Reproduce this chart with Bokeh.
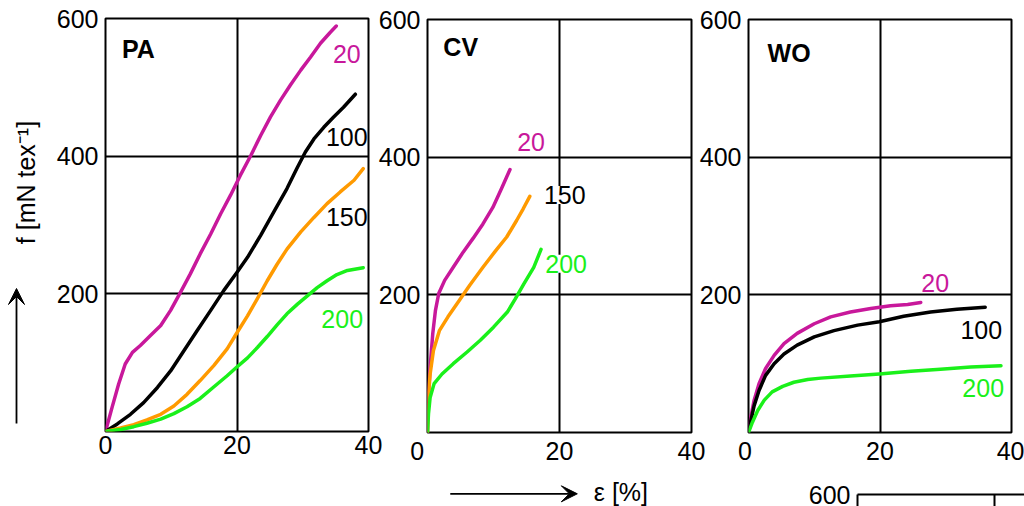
import math
from bokeh.plotting import figure
from bokeh.layouts import row, column
from bokeh.models import Range1d, FixedTicker, Label, Arrow, VeeHead, Spacer
from bokeh.embed import file_html
from bokeh.resources import INLINE

FONT = "Liberation Sans"
FS = "25px"
MAGENTA = "#C8189B"
ORANGE = "#FF9A00"
GREEN = "#1AF01A"
BLACK = "#000000"

# ---------------- data (strain eps [%], tenacity f [mN/tex]) ----------------
x_ticks = [0, 20, 40]
y_ticks = [200, 400, 600]

# PA
pa20_eps = [0, 1.0, 2.0, 3.0, 4.1, 5.3, 6.8, 8.4, 9.9, 11.4, 12.9, 14.4, 16.0, 17.5, 19.0,
            20.5, 22.1, 23.6, 25.1, 26.6, 28.1, 29.7, 31.2, 32.7, 34.2, 35.1]
pa20_f = [0, 35, 69, 98, 115, 125, 139, 154, 176, 202, 229, 258, 287, 316, 343,
          372, 401, 430, 457, 481, 503, 525, 544, 564, 580, 589]
pa100_eps = [0, 1.8, 3.8, 5.8, 7.9, 9.9, 11.9, 13.9, 16.0, 18.0, 19.9, 21.6, 23.6, 25.6,
             27.6, 29.1, 30.4, 31.7, 33.2, 34.7, 36.2, 38.0]
pa100_f = [0, 11, 25, 42, 64, 88, 117, 146, 176, 205, 230, 253, 285, 319,
           353, 382, 406, 425, 442, 457, 471, 490]
pa150_eps = [0, 2.3, 4.3, 6.3, 8.4, 10.4, 12.4, 14.4, 16.5, 18.5, 19.9, 21.6, 23.1, 24.6,
             26.1, 27.6, 29.7, 31.7, 33.7, 35.7, 37.8, 39.2]
pa150_f = [0, 5, 10, 17, 25, 37, 54, 74, 96, 120, 142, 168, 193, 219,
           243, 265, 290, 311, 331, 348, 365, 382]
pa200_eps = [0, 2.3, 4.3, 6.3, 8.4, 10.4, 12.4, 14.4, 16.5, 18.5, 19.9, 21.6, 23.1, 24.6,
             26.1, 27.6, 29.2, 30.7, 32.2, 33.7, 35.2, 36.8, 39.2]
pa200_f = [0, 3, 7, 12, 18, 26, 36, 48, 65, 81, 93, 107, 122, 138,
           155, 171, 185, 197, 209, 219, 228, 234, 238]

# CV
cv20_eps = [0, 0.1, 0.4, 0.8, 1.2, 1.7, 2.6, 3.9, 5.4, 6.9, 8.4, 9.9, 11.2, 12.5]
cv20_f = [0, 47, 95, 144, 177, 202, 221, 240, 262, 282, 303, 327, 354, 382]
cv150_eps = [0, 0.1, 0.4, 0.9, 1.8, 3.1, 4.6, 6.4, 8.4, 10.4, 12.0, 13.5, 14.5, 15.5]
cv150_f = [0, 47, 85, 119, 148, 168, 189, 214, 240, 265, 284, 308, 325, 343]
cv200_eps = [0, 0.15, 0.4, 1.0, 2.2, 3.9, 6.0, 8.0, 10.0, 12.1, 13.3, 14.6, 16.1, 17.2]
cv200_f = [0, 27, 51, 71, 85, 100, 117, 134, 153, 175, 194, 216, 240, 266]

# WO
wo20_eps = [0, 0.35, 0.86, 1.6, 2.6, 3.9, 5.4, 7.4, 10.0, 12.5, 15.5, 18.6, 21.6, 24.2, 26.2]
wo20_f = [0, 22, 47, 71, 93, 112, 129, 144, 158, 168, 175, 180, 184, 186, 189]
wo100_eps = [0, 0.35, 0.86, 1.6, 2.6, 3.9, 5.4, 7.4, 10.0, 13.0, 16.6, 19.9, 23.6, 27.7, 31.7, 36.0]
wo100_f = [0, 17, 39, 61, 83, 100, 114, 127, 139, 148, 156, 161, 169, 175, 179, 182]
wo200_eps = [0, 0.6, 1.4, 2.4, 3.6, 5.2, 6.9, 9.0, 11.0, 15.5, 19.9, 24.7, 29.2, 33.8, 38.4]
wo200_f = [0, 15, 32, 47, 59, 67, 73, 77, 79, 82, 85, 89, 92, 95, 97]

panel_titles = ["PA", "CV", "WO"]
y_label = "f [mN tex\u207b\u00b9]"
x_label = "\u03b5 [%]"

# curve label texts / positions (data units) / colours
pa_labels = [("20", 36.7, 549, MAGENTA), ("100", 36.7, 428, BLACK),
             ("150", 36.7, 311, BLACK), ("200", 36.0, 164, GREEN)]
cv_labels = [("20", 15.7, 422, MAGENTA), ("150", 20.8, 345, BLACK),
             ("200", 21.0, 245, GREEN)]
wo_labels = [("20", 28.4, 217, MAGENTA), ("100", 35.4, 149, BLACK),
             ("200", 35.7, 64, GREEN)]


def style_axes(p):
    for ax in p.xaxis + p.yaxis:
        ax.axis_line_color = None
        ax.major_tick_line_color = None
        ax.minor_tick_line_color = None
        ax.major_tick_out = 0
        ax.major_tick_in = 0
        ax.major_label_text_font = FONT
        ax.major_label_text_font_size = FS
        ax.major_label_text_color = "black"
    p.yaxis.major_label_standoff = 7
    p.xaxis.major_label_standoff = 4


def make_panel(width, height, bl, br, bt, bb):
    p = figure(width=width, height=height, x_range=Range1d(0, 40), y_range=Range1d(0, 600),
               output_backend="svg", toolbar_location=None,
               min_border_left=bl, min_border_right=br, min_border_top=bt, min_border_bottom=bb)
    p.border_fill_color = None
    p.background_fill_color = "white"
    p.outline_line_color = "black"
    p.outline_line_width = 2
    p.outline_line_alpha = 1
    p.xaxis.ticker = FixedTicker(ticks=x_ticks)
    p.yaxis.ticker = FixedTicker(ticks=y_ticks)
    p.xgrid.ticker = FixedTicker(ticks=[20])
    p.ygrid.ticker = FixedTicker(ticks=[200, 400])
    for g in p.xgrid + p.ygrid:
        g.grid_line_color = "black"
        g.grid_line_width = 2
        g.grid_line_alpha = 1
    style_axes(p)
    return p


def add_curves(p, curves, labels, title, title_xy, bg=False):
    for xs, ys, c in curves:
        p.line(xs, ys, line_color=c, line_width=3.5, line_join="round", line_cap="round")
    for txt, lx, ly, c in labels:
        lab = Label(x=lx, y=ly, text=txt, text_color=c, text_font=FONT, text_font_size=FS,
                    text_align="center", text_baseline="middle")
        if bg:
            lab.background_fill_color = "white"
            lab.padding = 0
        p.add_layout(lab)
    p.add_layout(Label(x=title_xy[0], y=title_xy[1], text=title, text_font=FONT,
                       text_font_size=FS, text_font_style="bold", text_color="black",
                       text_align="left", text_baseline="middle"))


def blank(width, height, xr, yr, bl=0, br=0, bt=0, bb=0):
    p = figure(width=width, height=height, x_range=xr, y_range=yr,
               output_backend="svg", toolbar_location=None,
               x_axis_type=None, y_axis_type=None,
               min_border_left=bl, min_border_right=br, min_border_top=bt, min_border_bottom=bb)
    p.outline_line_color = None
    p.border_fill_color = None
    p.background_fill_color = None
    return p


def arrow_head():
    return VeeHead(size=16, fill_color="black", line_color="black", line_width=1)


# ---------------- y-axis title strip (pixel-like coordinates) ----------------
p0 = blank(45, 506, Range1d(0, 45), Range1d(431, 18), bt=18, bb=75)
p0.add_layout(Label(x=25, y=182, text=y_label, text_font=FONT, text_font_size=FS,
                    angle=math.pi / 2, text_align="center", text_baseline="middle",
                    text_color="black"))
p0.add_layout(Arrow(x_start=16, y_start=423, x_end=16, y_end=288,
                    line_color="black", line_width=1.8, end=arrow_head()))

# ---------------- PA ----------------
p1 = make_panel(345, 506, 60, 22, 18, 75)
add_curves(p1, [(pa20_eps, pa20_f, MAGENTA), (pa100_eps, pa100_f, BLACK),
                (pa150_eps, pa150_f, ORANGE), (pa200_eps, pa200_f, GREEN)],
           pa_labels, panel_titles[0], (2.5, 555))

# ---------------- CV ----------------
p2 = make_panel(335, 470, 52, 19, 19, 38)
p2.xaxis.major_label_overrides = {0: "0\u00a0\u00a0\u00a0"}
add_curves(p2, [(cv20_eps, cv20_f, MAGENTA), (cv150_eps, cv150_f, ORANGE),
                (cv200_eps, cv200_f, GREEN)],
           cv_labels, panel_titles[1], (2.4, 560), bg=True)

pxl = blank(335, 36, Range1d(0, 40), Range1d(506, 470), bl=52, br=19)
pxl.add_layout(Arrow(x_start=3.45, y_start=493.3, x_end=22.7, y_end=493.3,
                     line_color="black", line_width=1.8, end=arrow_head()))
pxl.add_layout(Label(x=25.2, y=491.0, text=x_label, text_font=FONT, text_font_size=FS,
                     text_align="left", text_baseline="middle", text_color="black"))

c2 = column(p2, pxl)
c2.margin = (0, 0, 0, -15)

# ---------------- WO ----------------
p3 = make_panel(329, 470, 53, 13, 19, 38)
p3.xaxis.major_label_overrides = {0: "0\u00a0"}
add_curves(p3, [(wo20_eps, wo20_f, MAGENTA), (wo100_eps, wo100_f, BLACK),
                (wo200_eps, wo200_f, GREEN)],
           wo_labels, panel_titles[2], (2.9, 551))

# ---------------- partially visible 4th panel ----------------
p4 = figure(width=220, height=36, x_range=Range1d(0, 24.4), y_range=Range1d(582.6, 600),
            output_backend="svg", toolbar_location=None, x_axis_location="above",
            min_border_left=53, min_border_right=0, min_border_top=24, min_border_bottom=0)
p4.border_fill_color = None
p4.outline_line_color = None
p4.xaxis.ticker = FixedTicker(ticks=[])
p4.yaxis.ticker = FixedTicker(ticks=y_ticks)
p4.xgrid.ticker = FixedTicker(ticks=[20])
p4.ygrid.grid_line_color = None
p4.xgrid.grid_line_color = "black"
p4.xgrid.grid_line_width = 2
p4.xgrid.grid_line_alpha = 1
style_axes(p4)
for ax in p4.xaxis + p4.yaxis:
    ax.axis_line_color = "black"
    ax.axis_line_width = 2

c3 = column(p3, row(Spacer(width=109, height=36), p4))
c3.margin = (0, 0, 0, -15)

layout = row(p0, p1, c2, c3)

open("out.html", "w").write(file_html(layout, INLINE))
